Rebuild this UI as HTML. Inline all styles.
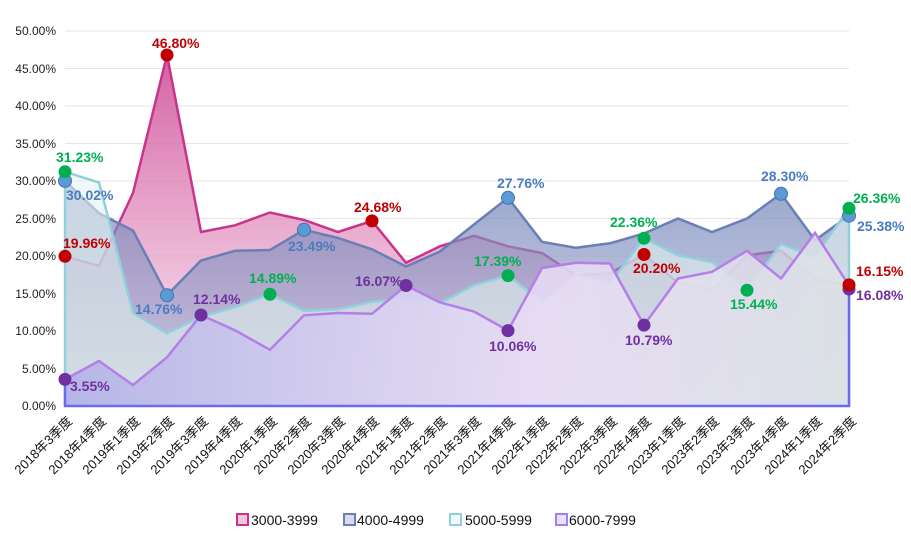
<!DOCTYPE html>
<html><head><meta charset="utf-8"><style>
html,body{margin:0;padding:0;background:#fff;width:911px;height:542px;overflow:hidden}
svg{display:block;font-family:"Liberation Sans","Noto Sans CJK SC",sans-serif}
.yl{font-size:12px;fill:#222;text-anchor:end}
.xl{font-size:13px;fill:#111;text-anchor:end}
.lb{font-size:14px;font-weight:bold}
</style></head><body>
<svg width="911" height="542" viewBox="0 0 911 542">
<defs>
<linearGradient id="gA" x1="0" y1="0" x2="0" y2="1"><stop offset="0" stop-color="#cf4f98" stop-opacity="0.9"/><stop offset="1" stop-color="#f5d5e8" stop-opacity="0.6"/></linearGradient>
<linearGradient id="gB" x1="0" y1="0" x2="0" y2="1"><stop offset="0" stop-color="#7383b8" stop-opacity="0.72"/><stop offset="1" stop-color="#aab2d4" stop-opacity="0.55"/></linearGradient>
<linearGradient id="gC" x1="0" y1="0" x2="0" y2="1"><stop offset="0" stop-color="#e6f3f4" stop-opacity="0.6"/><stop offset="1" stop-color="#d6ece6" stop-opacity="0.6"/></linearGradient>
<linearGradient id="gD" x1="0" y1="0" x2="1" y2="0"><stop offset="0" stop-color="#b4b4e6" stop-opacity="0.95"/><stop offset="0.6" stop-color="#eadcf6" stop-opacity="0.85"/><stop offset="1" stop-color="#dde2e6" stop-opacity="0.85"/></linearGradient>
</defs>
<g stroke="#e6e6e6" stroke-width="1">
<line x1="65" y1="31" x2="849" y2="31"/><line x1="65" y1="68.5" x2="849" y2="68.5"/><line x1="65" y1="106" x2="849" y2="106"/><line x1="65" y1="143.5" x2="849" y2="143.5"/><line x1="65" y1="181" x2="849" y2="181"/><line x1="65" y1="218.5" x2="849" y2="218.5"/><line x1="65" y1="256" x2="849" y2="256"/><line x1="65" y1="293.5" x2="849" y2="293.5"/><line x1="65" y1="331" x2="849" y2="331"/><line x1="65" y1="368.5" x2="849" y2="368.5"/>
</g>
<g class="yl">
<text x="56" y="35">50.00%</text><text x="56" y="73">45.00%</text><text x="56" y="110">40.00%</text><text x="56" y="148">35.00%</text><text x="56" y="185">30.00%</text><text x="56" y="223">25.00%</text><text x="56" y="260">20.00%</text><text x="56" y="298">15.00%</text><text x="56" y="335">10.00%</text><text x="56" y="373">5.00%</text><text x="56" y="410">0.00%</text>
</g>
<path d="M65,406 L65,256.3 99,265.8 133,193 167,55 201,232 235,225.3 270,212.5 304,220 338,232 372,220.9 406,262.8 440,246.3 474,235.8 508,246.3 542,253 576,275.5 610,273.3 644,254.5 678,283 712,290.5 747,255.3 781,250.8 815,279.3 849,284.9 L849,406 Z" fill="url(#gA)"/>
<polyline points="65,256.3 99,265.8 133,193 167,55 201,232 235,225.3 270,212.5 304,220 338,232 372,220.9 406,262.8 440,246.3 474,235.8 508,246.3 542,253 576,275.5 610,273.3 644,254.5 678,283 712,290.5 747,255.3 781,250.8 815,279.3 849,284.9" fill="none" stroke="#c8348a" stroke-width="2.5"/>
<path d="M65,406 L65,180.9 99,213.3 133,230.5 167,295.3 201,260.5 235,250.8 270,250 304,229.8 338,238 372,249.3 406,266.5 440,251.5 474,224.5 508,197.8 542,241.8 576,247.8 610,243.3 644,233.5 678,218.5 712,232 747,218.5 781,193.8 815,240.3 849,215.7 L849,406 Z" fill="url(#gB)"/>
<polyline points="65,180.9 99,213.3 133,230.5 167,295.3 201,260.5 235,250.8 270,250 304,229.8 338,238 372,249.3 406,266.5 440,251.5 474,224.5 508,197.8 542,241.8 576,247.8 610,243.3 644,233.5 678,218.5 712,232 747,218.5 781,193.8 815,240.3 849,215.7" fill="none" stroke="#6a7fb5" stroke-width="2.5"/>
<path d="M65,406 L65,171.8 99,182.5 133,313 167,333.3 201,316.8 235,307 270,294.3 304,310.8 338,309.3 372,301.8 406,298.8 440,303.3 474,285.3 508,275.6 542,301.8 576,274.8 610,283 644,238.3 678,255.3 712,262 747,290.2 781,244 815,256.8 849,208.3 L849,406 Z" fill="url(#gC)"/>
<path d="M65,406 L65,171.8 99,182.5 133,313 167,333.3 201,316.8 235,307 270,294.3 304,310.8 338,309.3 372,301.8 406,298.8 440,303.3 474,285.3 508,275.6 542,301.8 576,274.8 610,283 644,238.3 678,255.3 712,262 747,290.2 781,244 815,256.8 849,208.3 L849,406" fill="none" stroke="#92d0dc" stroke-width="2.5"/>
<path d="M65,406 L65,379.4 99,361 133,385 167,357.3 201,315 235,330.3 270,349.8 304,315.3 338,313 372,313.8 406,285.5 440,302.5 474,311.5 508,330.6 542,268 576,262.8 610,263.5 644,325.1 678,278.5 712,271.8 747,250.8 781,278.5 815,232.8 849,285.4 L849,406 Z" fill="url(#gD)"/>
<polyline points="65,379.4 99,361 133,385 167,357.3 201,315 235,330.3 270,349.8 304,315.3 338,313 372,313.8 406,285.5 440,302.5 474,311.5 508,330.6 542,268 576,262.8 610,263.5 644,325.1 678,278.5 712,271.8 747,250.8 781,278.5 815,232.8 849,285.4" fill="none" stroke="#b57ee8" stroke-width="2.5"/>
<path d="M65,379.4 L65,406 849,406 849,285.4" fill="none" stroke="#6b6bf0" stroke-width="2.5"/>
<g fill="#c00000"><circle cx="65" cy="256.3" r="6.5"/><circle cx="167" cy="55" r="6.5"/><circle cx="372" cy="220.9" r="6.5"/><circle cx="644" cy="254.5" r="6.5"/></g>
<g fill="#5b9bd5" stroke="#3f72b5" stroke-width="1"><circle cx="65" cy="180.9" r="6.5"/><circle cx="167" cy="295.3" r="6.5"/><circle cx="304" cy="229.8" r="6.5"/><circle cx="508" cy="197.8" r="6.5"/><circle cx="781" cy="193.8" r="6.5"/><circle cx="849" cy="215.7" r="6.5"/></g>
<g fill="#00b050"><circle cx="65" cy="171.8" r="6.5"/><circle cx="270" cy="294.3" r="6.5"/><circle cx="508" cy="275.6" r="6.5"/><circle cx="644" cy="238.3" r="6.5"/><circle cx="747" cy="290.2" r="6.5"/><circle cx="849" cy="208.3" r="6.5"/></g>
<g fill="#7030a0"><circle cx="65" cy="379.4" r="6.5"/><circle cx="201" cy="315" r="6.5"/><circle cx="406" cy="285.5" r="6.5"/><circle cx="508" cy="330.6" r="6.5"/><circle cx="644" cy="325.1" r="6.5"/><circle cx="849" cy="289" r="6.5"/></g>
<circle cx="849" cy="284.9" r="6.5" fill="#c00000"/>
<g class="lb" fill="#c00000"><text x="152" y="48">46.80%</text><text x="63" y="248">19.96%</text><text x="354" y="212">24.68%</text><text x="633" y="273">20.20%</text><text x="856" y="276">16.15%</text></g>
<g class="lb" fill="#4a7cc0"><text x="66" y="200">30.02%</text><text x="135" y="314">14.76%</text><text x="288" y="251">23.49%</text><text x="497" y="188">27.76%</text><text x="761" y="181">28.30%</text><text x="857" y="231">25.38%</text></g>
<g class="lb" fill="#00b050"><text x="56" y="162">31.23%</text><text x="249" y="283">14.89%</text><text x="474" y="266">17.39%</text><text x="610" y="227">22.36%</text><text x="730" y="309">15.44%</text><text x="853" y="203">26.36%</text></g>
<g class="lb" fill="#7030a0"><text x="70" y="391">3.55%</text><text x="193" y="304">12.14%</text><text x="355" y="286">16.07%</text><text x="489" y="351">10.06%</text><text x="625" y="345">10.79%</text><text x="856" y="300">16.08%</text></g>
<g class="xl">
<text transform="translate(73,422) rotate(-45)">2018年3季度</text>
<text transform="translate(107,422) rotate(-45)">2018年4季度</text>
<text transform="translate(141,422) rotate(-45)">2019年1季度</text>
<text transform="translate(175,422) rotate(-45)">2019年2季度</text>
<text transform="translate(209,422) rotate(-45)">2019年3季度</text>
<text transform="translate(243,422) rotate(-45)">2019年4季度</text>
<text transform="translate(278,422) rotate(-45)">2020年1季度</text>
<text transform="translate(312,422) rotate(-45)">2020年2季度</text>
<text transform="translate(346,422) rotate(-45)">2020年3季度</text>
<text transform="translate(380,422) rotate(-45)">2020年4季度</text>
<text transform="translate(414,422) rotate(-45)">2021年1季度</text>
<text transform="translate(448,422) rotate(-45)">2021年2季度</text>
<text transform="translate(482,422) rotate(-45)">2021年3季度</text>
<text transform="translate(516,422) rotate(-45)">2021年4季度</text>
<text transform="translate(550,422) rotate(-45)">2022年1季度</text>
<text transform="translate(584,422) rotate(-45)">2022年2季度</text>
<text transform="translate(618,422) rotate(-45)">2022年3季度</text>
<text transform="translate(652,422) rotate(-45)">2022年4季度</text>
<text transform="translate(686,422) rotate(-45)">2023年1季度</text>
<text transform="translate(720,422) rotate(-45)">2023年2季度</text>
<text transform="translate(755,422) rotate(-45)">2023年3季度</text>
<text transform="translate(789,422) rotate(-45)">2023年4季度</text>
<text transform="translate(823,422) rotate(-45)">2024年1季度</text>
<text transform="translate(857,422) rotate(-45)">2024年2季度</text>
</g>
<g font-size="14" fill="#111">
<rect x="237" y="514" width="11" height="11" fill="#f0c8dc" stroke="#c8348a" stroke-width="2"/><text x="251" y="525">3000-3999</text>
<rect x="344" y="514" width="11" height="11" fill="#d8dcee" stroke="#6a7fb5" stroke-width="2"/><text x="357" y="525">4000-4999</text>
<rect x="450" y="514" width="11" height="11" fill="#f0f8fa" stroke="#92d0dc" stroke-width="2"/><text x="465" y="525">5000-5999</text>
<rect x="556" y="514" width="11" height="11" fill="#ece0f8" stroke="#a080f0" stroke-width="2"/><text x="569" y="525">6000-7999</text>
</g>
</svg>
</body></html>
